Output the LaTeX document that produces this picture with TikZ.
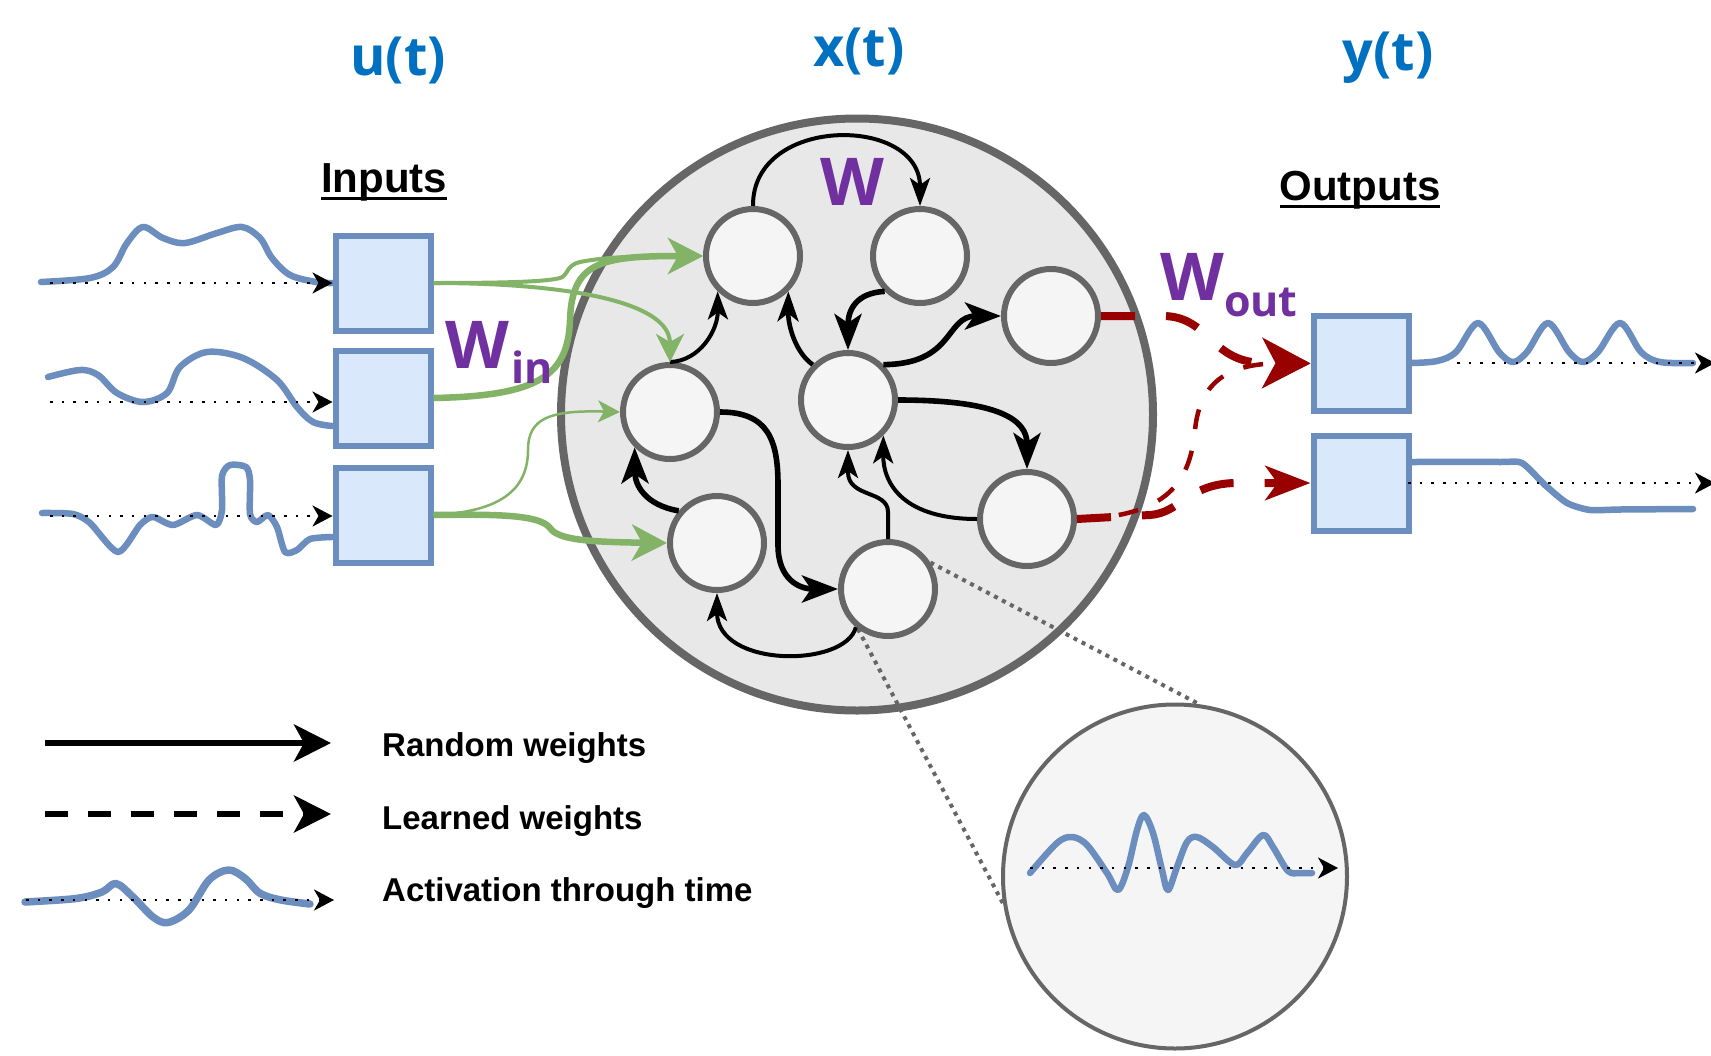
\documentclass[tikz,border=0pt]{standalone}
\usepackage{fontspec}
\setmainfont{Liberation Sans}
\newfontfamily\osans{Open Sans}
\usetikzlibrary{arrows.meta}
\definecolor{tblue}{HTML}{0070C0}
\definecolor{wpurple}{HTML}{7030A0}
\definecolor{bfill}{HTML}{DAE8FC}
\definecolor{bdraw}{HTML}{6C8EBF}
\definecolor{cgreen}{HTML}{82B366}
\definecolor{cred}{HTML}{990000}
\definecolor{cgrey}{HTML}{666666}
\definecolor{resfill}{HTML}{E8E8E8}
\definecolor{nfill}{HTML}{F5F5F5}
\newcommand\myul[1]{\leavevmode\setbox0\hbox{#1}\rlap{\rule[-8.3pt]{\wd0}{3.3pt}}\box0}
\begin{document}
\begin{tikzpicture}[x=1pt,y=-1pt,
  neuron/.style={circle, draw=cgrey, fill=nfill, line width=6pt, minimum size=94pt, inner sep=0pt},
  iobox/.style={rectangle, draw=bdraw, fill=bfill, line width=6pt, minimum width=95pt, minimum height=95pt, inner sep=0pt},
  rw/.style={draw=black, line width=4pt, -{Stealth[length=28pt,width=20pt,inset=7pt]}},
  rwM/.style={draw=black, line width=4.6pt, -{Stealth[length=30pt,width=21pt,inset=8pt]}},
  rwT/.style={draw=black, line width=5.6pt, -{Stealth[length=36pt,width=27pt,inset=9pt]}},
  gS/.style={draw=cgreen, line width=2.5pt, -{Stealth[length=22pt,width=22pt,inset=6pt]}},
  gM/.style={draw=cgreen, line width=4pt, -{Stealth[length=28pt,width=28pt,inset=8pt]}},
  gT/.style={draw=cgreen, line width=6.5pt, -{Stealth[length=35pt,width=36pt,inset=10pt]}},
  rdA/.style={draw=cred, line width=8pt, dash pattern=on 34pt off 31pt, -{Stealth[length=48pt,width=50pt,inset=13pt]}},
  rdB/.style={draw=cred, line width=8pt, dash pattern=on 34pt off 31pt, -{Stealth[length=45pt,width=34pt,inset=12pt]}},
  rdC/.style={draw=cred, line width=4.5pt, dash pattern=on 20pt off 22pt, -{Stealth[length=40pt,width=40pt,inset=11pt]}},
  wave/.style={draw=bdraw, line width=6.5pt, line cap=round, line join=round},
  dotarr/.style={draw=black, line width=2.5pt, dash pattern=on 2.5pt off 9.2pt, -{Stealth[length=20pt,width=21pt,inset=6pt]}},
  zoomline/.style={draw=cgrey, line width=4pt, dash pattern=on 4pt off 5pt},
  ttl/.style={anchor=base, inner sep=0pt, text=tblue, font=\osans\fontsize{54}{60}\selectfont\bfseries},
  hdr/.style={anchor=base, inner sep=0pt, font=\fontsize{42}{48}\selectfont\bfseries},
  wlab/.style={anchor=base west, inner sep=0pt, text=wpurple, font=\osans\fontsize{66}{72}\selectfont\bfseries},
  legtxt/.style={anchor=base west, inner sep=0pt, font=\fontsize{33}{40}\selectfont\bfseries}
]
\useasboundingbox (0,0) rectangle (1711,1055);
\fill[white] (0,0) rectangle (1711,1055);

% titles
\node[ttl] (ut) at (398,75) {u(t)};
\node[ttl] (xt) at (859,66) {x(t)};
\node[ttl] (yt) at (1388,70) {y(t)};
\node[hdr] (inp) at (384,192) {\myul{Inputs}};
\node[hdr] (outp) at (1360,200) {\myul{Outputs}};

% input waves
\draw[wave] plot[smooth, tension=0.55] coordinates {(41,282) (90,278) (113,267) (127,243) (143,227) (163,238) (185,243) (217,233) (242,227) (260,238) (272,258) (290,275) (316,282) (332,283)};
\draw[wave] plot[smooth, tension=0.55] coordinates {(48,377) (80,370) (98,375) (117,393) (143,402) (167,393) (180,367) (207,352) (243,358) (277,380) (297,407) (313,422) (332,426)};
\draw[wave] plot[smooth, tension=0.45] coordinates {(42,513) (73,514) (90,523) (118,552) (140,525) (153,517) (173,525) (197,515) (216,525) (222,510) (222,476) (230,465) (246,467) (250,480) (250,514) (257,522) (268,515) (277,527) (285,552) (297,550) (310,539) (332,537)};

% input boxes
\node[iobox] (B1) at (383,283) {};
\node[iobox] (B2) at (383,398) {};
\node[iobox] (B3) at (383,515) {};
\coordinate (d1) at (50,283);
\coordinate (d2) at (50,402);
\coordinate (d3) at (50,516);
\draw[dotarr] (d1) -- (d1 -| B1.west);
\draw[dotarr] (d2) -- (d2 -| B2.west);
\draw[dotarr] (d3) -- (d3 -| B3.west);

% reservoir
\node[circle, draw=cgrey, fill=resfill, line width=8pt, minimum size=592pt, inner sep=0pt] (R) at (857,414.5) {};

% zoom circle
\node[circle, draw=cgrey, fill=nfill, line width=4pt, minimum size=344pt, inner sep=0pt] (Z) at (1175,876.5) {};
\draw[wave] plot[smooth, tension=0.55] coordinates {(1030,873) (1057,843) (1072,837) (1087,845) (1107,873) (1118,890) (1128,867) (1137,830) (1144,815) (1153,833) (1162,870) (1168,890) (1177,867) (1187,842) (1197,837) (1213,847) (1235,865) (1247,853) (1263,835) (1273,847) (1288,871) (1300,873) (1312,873)};
\coordinate (zs) at (1030,868);
\coordinate (ze) at (1338,868);
\draw[dotarr] (zs) -- (ze);

% neurons
\node[neuron] (N1) at (753,256) {};
\node[neuron] (N2) at (920,256) {};
\node[neuron] (N3) at (1051,316) {};
\node[neuron] (N4) at (670,412) {};
\node[neuron] (N5) at (848,400) {};
\node[neuron] (N6) at (1027,519) {};
\node[neuron] (N7) at (717,543) {};
\node[neuron] (N8) at (888,589) {};

\draw[zoomline] (N8.32) -- (Z.82);
\draw[zoomline] (N8.-127) -- (Z.189);

% reservoir connections
\draw[rw] (N1.north) .. controls (752,115) and (920,115) .. (N2.north);
\draw[rw] (N4.north) .. controls (700,361) and (718,330) .. (N1.-135);
\draw[rwM] (N5.135) .. controls (795,352) and (788,325) .. (N1.-45);
\draw[rwT] (N2.-135) .. controls (856,293) and (848,310) .. (N5.north);
\draw[rwT] (N5.45) .. controls (955,364) and (945,316) .. (N3.west);
\draw[rwT] (N5.east) .. controls (1000,400) and (1027,420) .. (N6.north);
\draw[rw] (N6.west) .. controls (905,519) and (883,485) .. (N5.-45);
\draw[rw] (N8.north) -- (888,512) .. controls (888,490) and (848,498) .. (848,472) -- (N5.south);
\draw[rwT] (N4.east) .. controls (768,412) and (778,440) .. (778,485) -- (778,545) .. controls (778,580) and (800,589) .. (N8.west);
\draw[rwT] (N7.140) .. controls (645,505) and (635,485) .. (N4.-135);
\draw[rw] (N8.-130) .. controls (845,668) and (717,668) .. (N7.south);

% input weights
\draw[gM] (B1.east) .. controls (500,283) and (545,282) .. (560,278) .. controls (568,276) and (566,265) .. (580,262) .. controls (610,256) and (650,256) .. (N1.west);
\draw[gM] (B1.east) .. controls (560,283) and (670,300) .. (N4.north);
\draw[gT] (B2.east) .. controls (540,396) and (568,375) .. (570,320) .. controls (572,262) and (600,256) .. (N1.west);
\draw[gS] (B3.east) .. controls (500,512) and (528,490) .. (528,450) .. controls (528,418) and (550,410) .. (N4.west);
\draw[gT] (B3.east) .. controls (500,514) and (540,515) .. (550,528) .. controls (558,540) and (590,542) .. (N7.west);

% output boxes
\node[iobox] (O1) at (1361,363.4) {};
\node[iobox] (O2) at (1361,483) {};

% output weights
\draw[rdC] (N6.east) .. controls (1170,517) and (1190,480) .. (1195,430) .. controls (1200,380) and (1230,363) .. (O1.west);
\draw[rdA] (N3.east) -- (1165,316) .. controls (1210,318) and (1210,361) .. (1262,363) -- (O1.west);
\draw[rdB] (N6.east) -- (1150,515) .. controls (1180,513) and (1188,484) .. (1235,483) -- (O2.west);

% output waves
\draw[wave] plot[smooth, tension=0.55] coordinates {(1412,363) (1437,361) (1456,352) (1478,323) (1499,352) (1513,362) (1527,352) (1548,323) (1569,352) (1583,362) (1598,352) (1620,323) (1641,352) (1660,362) (1693,363)};
\draw[wave] plot[smooth, tension=0.4] coordinates {(1412,462) (1500,462) (1522,463) (1545,485) (1567,503) (1590,510) (1620,509.5) (1693,509)};
\coordinate (o1s) at (1457,363);
\coordinate (o1e) at (1715,363);
\coordinate (o2s) at (1408,483);
\coordinate (o2e) at (1715,483);
\draw[dotarr] (o1s) -- (o1e);
\draw[dotarr] (o2s) -- (o2e);

% weight labels
\node[wlab] (win) at (445,368) {W\kern2pt\raisebox{-15pt}{\fontsize{43}{48}\selectfont in}};
\node[wlab] (wres) at (820,205) {W};
\node[wlab] (wout) at (1160,300) {W\raisebox{-16.7pt}{\fontsize{43}{48}\selectfont out}};

% legend
\coordinate (l1a) at (45,743);
\coordinate (l1b) at (331,743);
\coordinate (l2a) at (45,814);
\coordinate (l2b) at (331,814);
\draw[line width=6.5pt, -{Stealth[length=37pt,width=37pt,inset=10pt]}] (l1a) -- (l1b);
\draw[line width=6.5pt, dash pattern=on 23pt off 20pt, -{Stealth[length=37pt,width=37pt,inset=10pt]}] (l2a) -- (l2b);
\draw[wave, line width=7.5pt] plot[smooth, tension=0.55] coordinates {(25,902) (76,898.5) (102,892) (116,883.5) (133,897) (153,917) (168,922.5) (189,910) (209,880) (228.6,870) (245,878.3) (260,893.3) (281,900) (310,904)};
\coordinate (l3a) at (26,900);
\coordinate (l3b) at (334,900);
\draw[dotarr] (l3a) -- (l3b);
\node[legtxt] (t1) at (382,756.5) {Random weights};
\node[legtxt] (t2) at (382,829) {Learned weights};
\node[legtxt] (t3) at (382,901) {Activation through time};
\end{tikzpicture}
\end{document}
